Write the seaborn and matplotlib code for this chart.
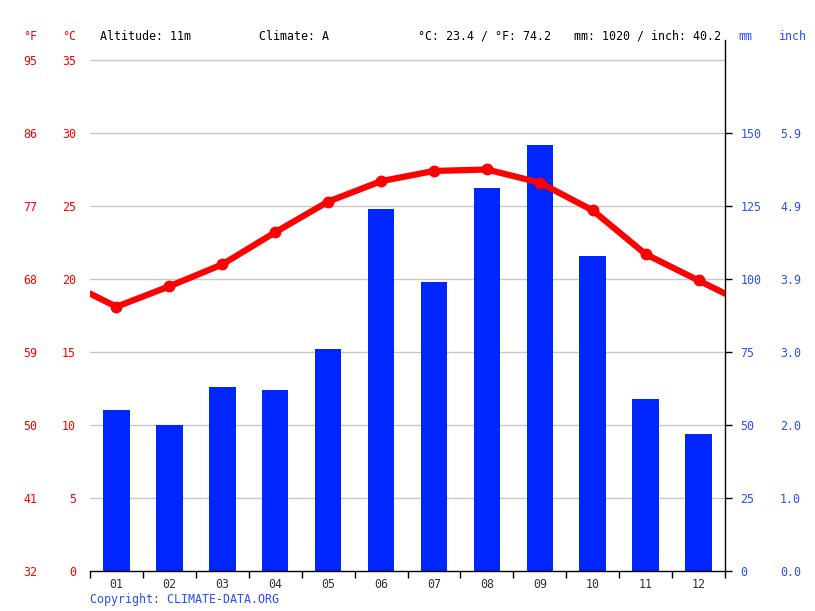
import numpy as np
import pandas as pd
import matplotlib
matplotlib.use('Agg')
import matplotlib.pyplot as plt
import seaborn as sns

# ---------------------------------------------------------
# data
# ---------------------------------------------------------
months = ['01', '02', '03', '04', '05', '06', '07', '08', '09', '10', '11', '12']
temp_c = [18.1, 19.5, 21.0, 23.2, 25.3, 26.7, 27.4, 27.5, 26.6, 24.7, 21.7, 19.9]
precip_mm = [55, 50, 63, 62, 76, 124, 99, 131, 146, 108, 59, 47]

c_ticks = [0, 5, 10, 15, 20, 25, 30, 35]
f_labels = ['32', '41', '50', '59', '68', '77', '86', '95']
mm_ticks = [0, 25, 50, 75, 100, 125, 150]
inch_labels = ['0.0', '1.0', '2.0', '3.0', '3.9', '4.9', '5.9']

header_left = 'Altitude: 11m'
header_climate = 'Climate: A'
header_temp = '°C: 23.4 / °F: 74.2'
header_rain = 'mm: 1020 / inch: 40.2'

RED = '#ff0000'
BLUE_BAR = '#0026ff'
BLUE_TXT = '#2a4dff'
FS = 8.4
MM_PER_C = 5          # 5 mm of rain per 1 °C on the shared grid
W, H = 815, 611

sns.set_style('white')
plt.rcParams['font.family'] = ['DejaVu Sans Mono', 'DejaVu Sans']

fig = plt.figure(figsize=(W / 100, H / 100), dpi=100)
ax = fig.add_axes([90 / W, 1 - 571 / H, 635 / W, 531 / H])
axt = ax.twinx()

top_c = 35 * 531 / 511
ax.set_ylim(0, top_c * MM_PER_C)
ax.set_xlim(-0.5, 11.5)

# grid (behind bars)
for c in c_ticks[1:]:
    ax.axhline(c * MM_PER_C, color='#c8c8c8', linewidth=1, zorder=0)

# bars
df = pd.DataFrame({'month': months, 'precip': precip_mm})
sns.barplot(data=df, x='month', y='precip', color=BLUE_BAR, saturation=1,
            width=0.5, linewidth=0, ax=ax, zorder=2)
ax.set_xlim(-0.5, 11.5)
ax.set_ylim(0, top_c * MM_PER_C)
ax.set_xlabel('')
ax.set_ylabel('')

# right axis: mm
ax.yaxis.tick_right()
ax.set_yticks(mm_ticks)
ax.set_yticklabels([str(v) for v in mm_ticks])
ax.tick_params(axis='y', direction='out', length=5, width=1, color='black',
               labelcolor=BLUE_TXT, labelsize=FS, pad=6,
               right=True, left=False, labelright=True, labelleft=False)
ytr = ax.get_yaxis_transform()
for v, lab in zip(mm_ticks, inch_labels):
    ax.text((780 - 90) / 635, v, lab, transform=ytr, ha='left',
            va='center_baseline', color=BLUE_TXT, fontsize=FS)

# bottom axis: ticks at month boundaries, labels centred
ax.set_xticks(np.arange(-0.5, 12, 1))
ax.set_xticklabels([''] * 13)
ax.set_xticks(range(12), minor=True)
ax.set_xticklabels(months, minor=True)
ax.tick_params(axis='x', which='major', direction='out', length=5, width=1,
               color='black', bottom=True)
ax.tick_params(axis='x', which='minor', length=0, labelsize=FS,
               labelcolor='#333333', pad=5)

for s in ['left', 'top']:
    ax.spines[s].set_visible(False)
for s in ['right', 'bottom']:
    ax.spines[s].set_color('black')
    ax.spines[s].set_linewidth(1)

# temperature axis on the left
axt.set_ylim(0, top_c)
axt.set_xlim(-0.5, 11.5)
for s in axt.spines.values():
    s.set_visible(False)
axt.yaxis.tick_left()
axt.set_yticks(c_ticks)
axt.set_yticklabels([str(v) for v in c_ticks])
axt.tick_params(axis='y', length=0, labelcolor=RED, labelsize=FS, pad=10,
                left=True, right=False, labelleft=True, labelright=False)
ytt = axt.get_yaxis_transform()
for v, lab in zip(c_ticks, f_labels):
    axt.text((37 - 90) / 635, v, lab, transform=ytt, ha='right',
             va='center_baseline', color=RED, fontsize=FS)

# temperature line, wrapped to the plot edges
edge = (temp_c[0] + temp_c[-1]) / 2
line_x = [-0.5] + list(range(12)) + [11.5]
line_y = [edge] + temp_c + [edge]
sns.lineplot(x=line_x, y=line_y, ax=axt, color=RED, linewidth=4.5,
             sort=False, solid_joinstyle='round')
axt.plot(range(12), temp_c, 'o', color=RED, markersize=7.5)
axt.set_ylim(0, top_c)
axt.set_xlim(-0.5, 11.5)

# header texts
hy = 1 - 36 / H
fig.text(37 / W, hy, '°F', color=RED, fontsize=FS, ha='right', va='center')
fig.text(76 / W, hy, '°C', color=RED, fontsize=FS, ha='right', va='center')
fig.text(100 / W, hy, header_left, color='black', fontsize=FS, va='center')
fig.text(259 / W, hy, header_climate, color='black', fontsize=FS, va='center')
fig.text(418 / W, hy, header_temp, color='black', fontsize=FS, va='center')
fig.text(721 / W, hy, header_rain, color='black', fontsize=FS, ha='right',
         va='center')
fig.text(738 / W, hy, 'mm', color=BLUE_TXT, fontsize=FS, va='center')
fig.text(779 / W, hy, 'inch', color=BLUE_TXT, fontsize=FS, va='center')

fig.text(90 / W, 1 - 599 / H, 'Copyright: CLIMATE-DATA.ORG', color=BLUE_TXT,
         fontsize=FS, va='center')

fig.savefig('out.png', dpi=100)
